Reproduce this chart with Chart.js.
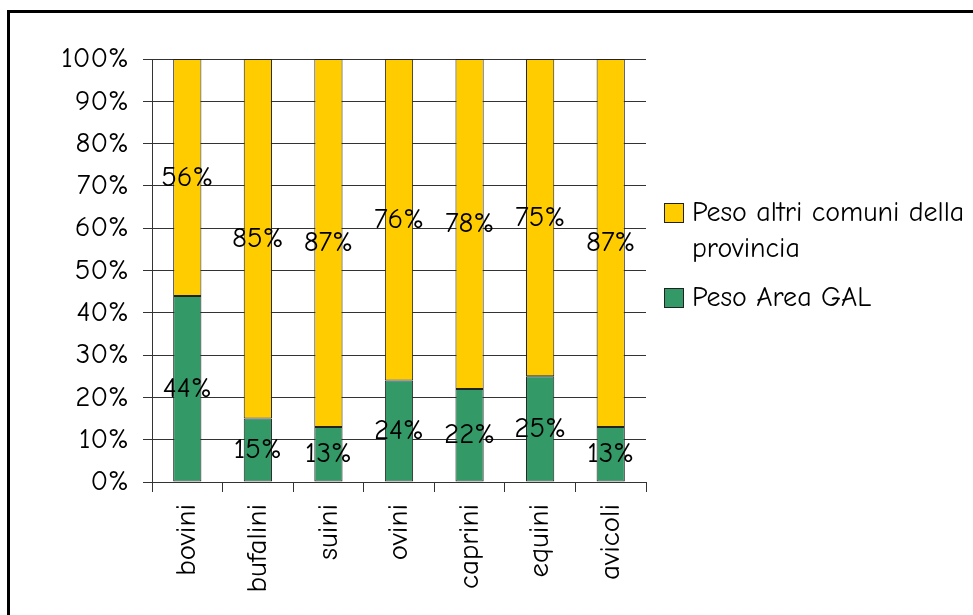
<!DOCTYPE html>
<html>
<head>
<meta charset="utf-8">
<script src="https://cdn.jsdelivr.net/npm/chart.js@4.4.0/dist/chart.umd.min.js"></script>
<style>
  html, body { margin: 0; padding: 0; background: #fff; overflow: hidden; }
  #wrap { position: relative; width: 973px; height: 615px; }
  #frame {
    position: absolute; left: 7px; top: 10px; width: 1000px; height: 700px;
    border-top: 3px solid #000; border-left: 3px solid #000;
  }
  #chart { position: absolute; left: 0; top: 0; }
</style>
</head>
<body>
<div id="wrap">
  <div id="frame"></div>
  <canvas id="chart" width="973" height="615"></canvas>
</div>
<script>
// categories and values (percent)
const categories = ['bovini', 'bufalini', 'suini', 'ovini', 'caprini', 'equini', 'avicoli'];
const areaGal = [44, 15, 13, 24, 22, 25, 13];
const altriComuni = [56, 85, 87, 76, 78, 75, 87];
const yTicks = [0, 10, 20, 30, 40, 50, 60, 70, 80, 90, 100];

const FONT = '"Comic Sans MS", "Comic Neue", "DejaVu Sans Condensed", sans-serif';
const YELLOW = '#FFCC00';
const GREEN = '#339966';

// data labels centred on each segment
const segmentLabels = {
  id: 'segmentLabels',
  afterDatasetsDraw(chart) {
    const ctx = chart.ctx;
    ctx.save();
    ctx.font = '29px ' + FONT;
    ctx.fillStyle = '#000';
    ctx.textAlign = 'center';
    ctx.textBaseline = 'middle';
    chart.data.datasets.forEach((ds, i) => {
      chart.getDatasetMeta(i).data.forEach((bar, j) => {
        const yMid = (bar.y + bar.base) / 2;
        ctx.fillText(ds.data[j] + '%', bar.x, yMid);
      });
    });
    ctx.restore();
  }
};

// legend on the right, with wrapped first entry
const sideLegend = {
  id: 'sideLegend',
  afterDraw(chart) {
    const ctx = chart.ctx;
    const items = [
      { color: YELLOW, lines: ['Peso altri comuni della', 'provincia'], y: 213 },
      { color: GREEN, lines: ['Peso Area GAL'], y: 298 }
    ];
    ctx.save();
    ctx.font = '28px ' + FONT;
    ctx.textBaseline = 'middle';
    ctx.textAlign = 'left';
    items.forEach(it => {
      ctx.fillStyle = it.color;
      ctx.fillRect(664, it.y - 10, 20, 20);
      ctx.strokeStyle = '#222';
      ctx.lineWidth = 1;
      ctx.strokeRect(664.5, it.y - 9.5, 19, 19);
      ctx.fillStyle = '#000';
      it.lines.forEach((t, k) => ctx.fillText(t, 692, it.y + k * 36));
    });
    ctx.restore();
  }
};

new Chart(document.getElementById('chart'), {
  type: 'bar',
  data: {
    labels: categories,
    datasets: [
      {
        label: 'Peso Area GAL',
        data: areaGal,
        backgroundColor: GREEN,
        borderColor: '#222',
        borderWidth: 1,
        borderSkipped: false,
        categoryPercentage: 1,
        barPercentage: 0.4
      },
      {
        label: 'Peso altri comuni della provincia',
        data: altriComuni,
        backgroundColor: YELLOW,
        borderColor: '#222',
        borderWidth: 1,
        borderSkipped: false,
        categoryPercentage: 1,
        barPercentage: 0.4
      }
    ]
  },
  options: {
    responsive: false,
    animation: false,
    layout: { padding: { top: 59, right: 327, left: 0, bottom: 0 } },
    plugins: {
      legend: { display: false },
      tooltip: { enabled: false }
    },
    scales: {
      x: {
        stacked: true,
        offset: true,
        grid: {
          offset: true,
          drawOnChartArea: false,
          drawTicks: true,
          tickLength: 10,
          color: '#333'
        },
        border: { color: '#333', width: 1 },
        ticks: {
          autoSkip: false,
          minRotation: 90,
          maxRotation: 90,
          padding: 12,
          color: '#000',
          font: { family: FONT, size: 29 }
        },
        afterFit(scale) { scale.height = 133; }
      },
      y: {
        stacked: true,
        min: 0,
        max: 100,
        afterBuildTicks(scale) { scale.ticks = yTicks.map(v => ({ value: v })); },
        grid: {
          drawTicks: true,
          tickLength: 9,
          color: '#333'
        },
        border: { color: '#333', width: 1 },
        ticks: {
          padding: 14,
          color: '#000',
          font: { family: FONT, size: 29 },
          callback: v => v + '%'
        },
        afterFit(scale) { scale.width = 152; }
      }
    }
  },
  plugins: [segmentLabels, sideLegend]
});
</script>
</body>
</html>
